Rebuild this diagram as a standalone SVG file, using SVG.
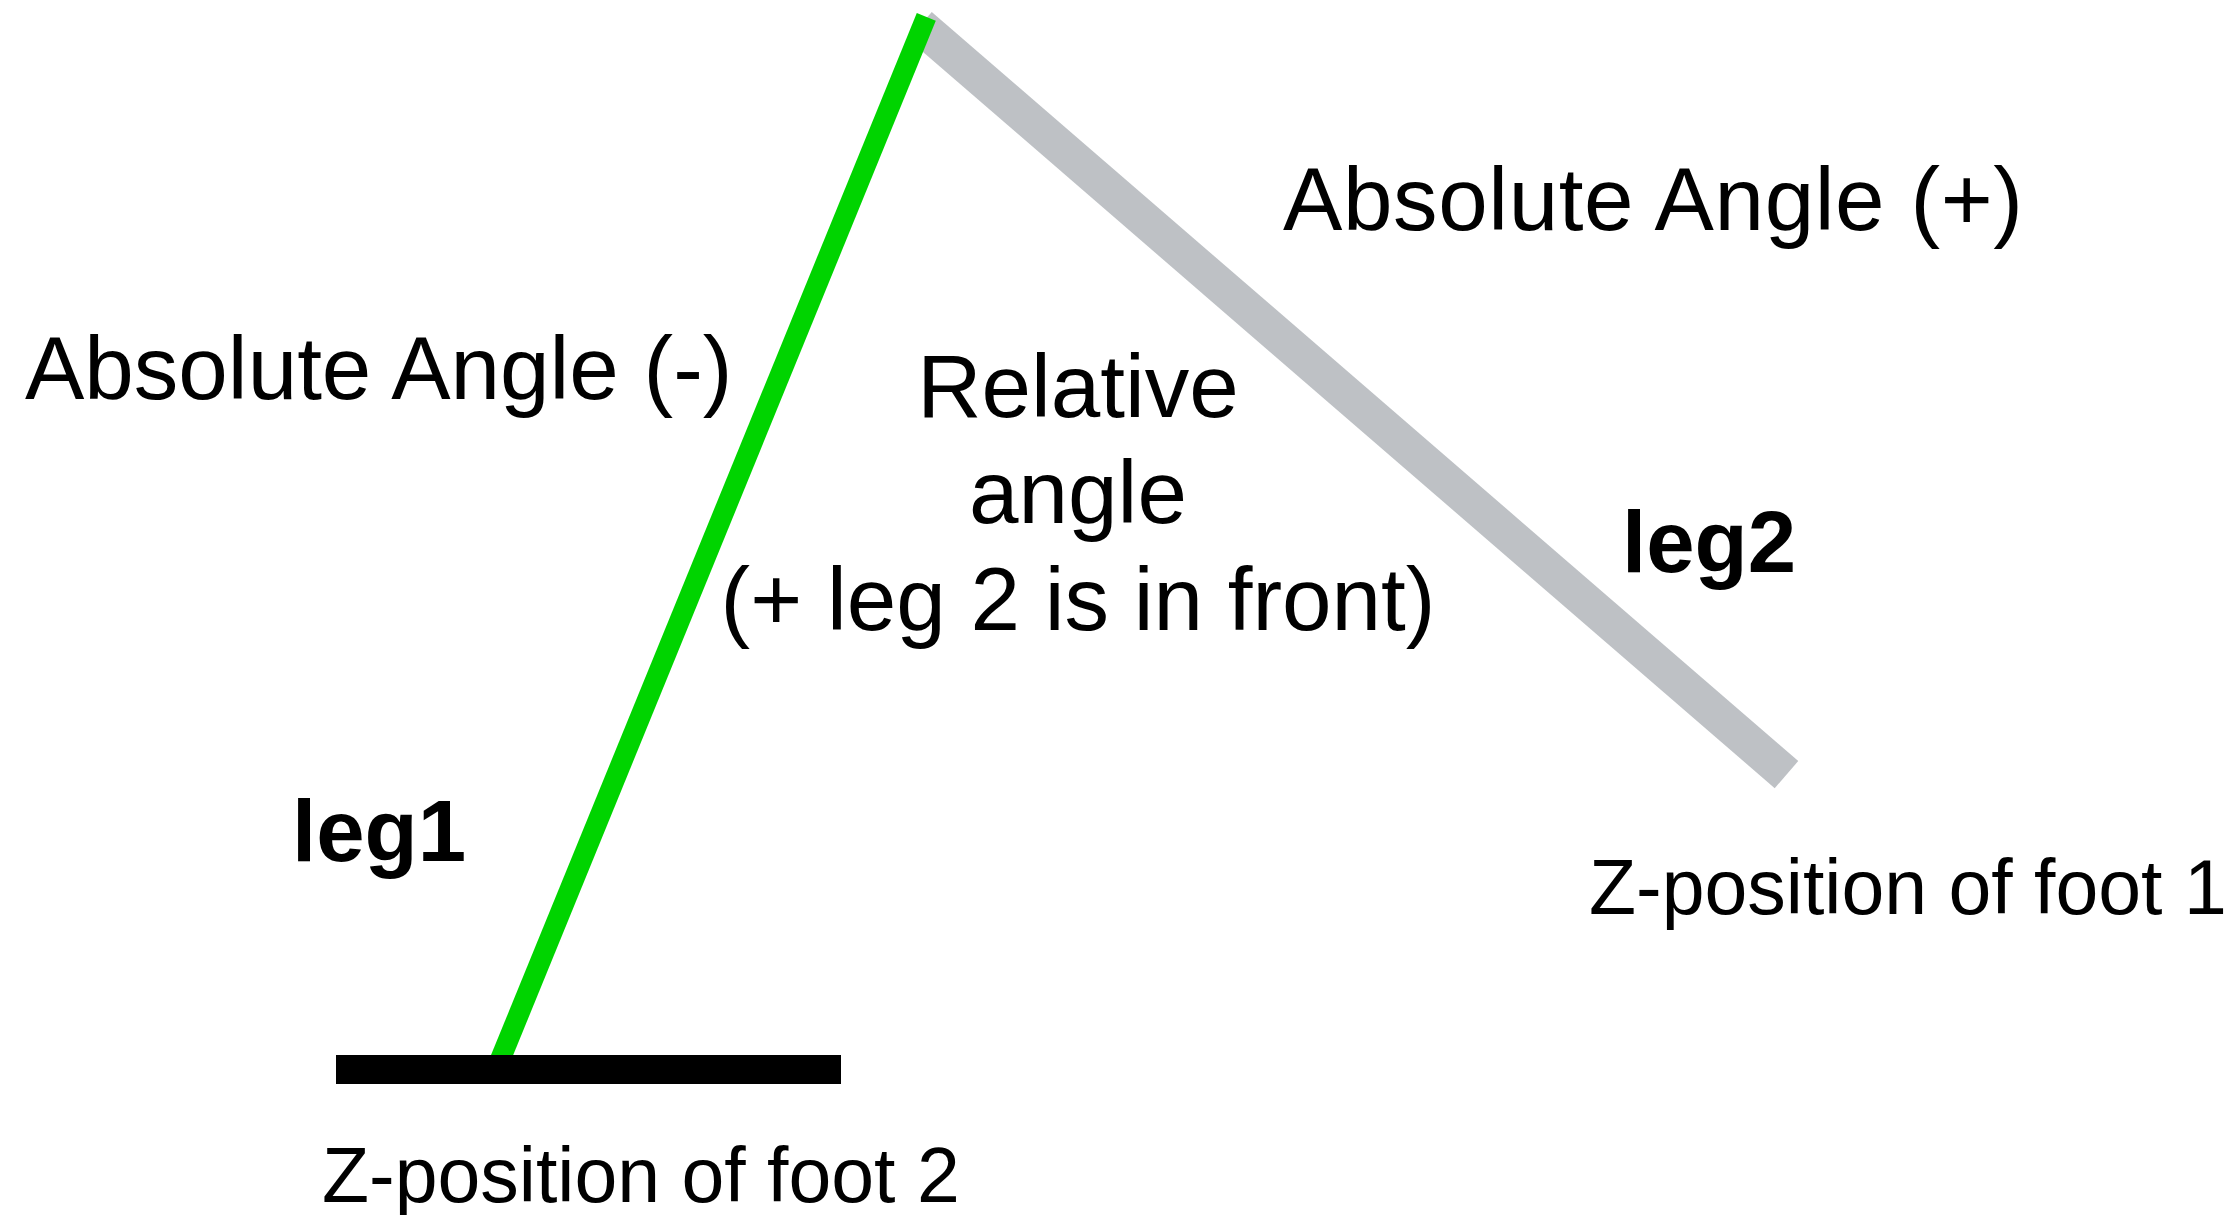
<svg xmlns="http://www.w3.org/2000/svg" width="2232" height="1215" viewBox="0 0 2232 1215">
  <style>
    .lbl { font-family: "Liberation Sans", Arial, sans-serif; font-size: 89px; fill: #000; }
    .small { font-size: 77px; }
    .bold { font-weight: bold; font-size: 87px; }
    .mid { text-anchor: middle; }
  </style>
  <rect width="2232" height="1215" fill="#fff"/>
  <g id="connectors">
    <line id="leg2-line" x1="920" y1="25.6" x2="1786.5" y2="774.6" stroke="#BEC1C5" stroke-width="36" stroke-linecap="butt"/>
    <line id="leg1-line" x1="926.3" y1="16.9" x2="496" y2="1070" stroke="#00D400" stroke-width="20.5" stroke-linecap="butt"/>
  </g>
  <g id="foot2">
    <rect x="336" y="1055" width="505" height="29" fill="#000"/>
    <text class="lbl small" x="322" y="1202">Z-position of foot 2</text>
  </g>
  <g id="foot1">
    <text class="lbl small" x="1589" y="914">Z-position of foot 1</text>
  </g>
  <g id="abs-minus">
    <text class="lbl" x="25" y="399">Absolute Angle (-)</text>
  </g>
  <g id="abs-plus">
    <text class="lbl" x="1283" y="230" textLength="740" lengthAdjust="spacing">Absolute Angle (+)</text>
  </g>
  <g id="relative">
    <text class="lbl mid" x="1078" y="417">Relative</text>
    <text class="lbl mid" x="1078" y="523">angle</text>
    <text class="lbl mid" x="1078" y="630">(+ leg 2 is in front)</text>
  </g>
  <g id="leg1">
    <text class="lbl bold" x="292" y="861">leg1</text>
  </g>
  <g id="leg2">
    <text class="lbl bold" x="1622" y="572">leg2</text>
  </g>
</svg>
